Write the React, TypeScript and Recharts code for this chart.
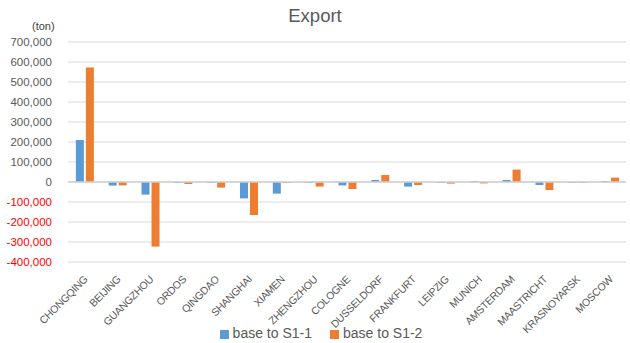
import React from 'react';
import { BarChart, Bar, XAxis, YAxis, CartesianGrid, Legend, ReferenceLine } from 'recharts';

const cities = ['CHONGQING', 'BEIJING', 'GUANGZHOU', 'ORDOS', 'QINGDAO', 'SHANGHAI', 'XIAMEN', 'ZHENGZHOU', 'COLOGNE', 'DUSSELDORF', 'FRANKFURT', 'LEIPZIG', 'MUNICH', 'AMSTERDAM', 'MAASTRICHT', 'KRASNOYARSK', 'MOSCOW'];
const baseS11 = [210000, -18000, -63000, -5000, -5000, -82000, -58000, -5000, -17000, 10000, -23000, -4000, 5000, 10000, -15000, -4000, 5000];
const baseS12 = [573000, -17000, -323000, -10000, -28000, -165000, -5000, -23000, -35000, 35000, -15000, -8000, -7000, 62000, -40000, -4000, 22000];
const yTicks = [-400000, -300000, -200000, -100000, 0, 100000, 200000, 300000, 400000, 500000, 600000, 700000];

const data = cities.map((c, i) => ({ city: c, s11: baseS11[i], s12: baseS12[i] }));

const FONT = '"Liberation Sans", Arial, sans-serif';

const fmt = (v: number) => {
  const s = Math.abs(v).toLocaleString('en-US');
  return v < 0 ? '-' + s : s;
};

const YTick = (props: any) => {
  const { x, y, payload } = props;
  const v = payload.value as number;
  return (
    <text x={x} y={y} dy={4} textAnchor="end" fontFamily={FONT} fontSize={11.5} fill={v < 0 ? '#ff0000' : '#595959'}>
      {fmt(v)}
    </text>
  );
};

const XTick = (props: any) => {
  const { x, y, payload } = props;
  return (
    <g transform={`translate(${x + 4},${y + 10})`}>
      <text x={0} y={0} textAnchor="end" transform="rotate(-45)" fontFamily={FONT} fontSize={10.5} letterSpacing={-0.3} fill="#595959">
        {payload.value}
      </text>
    </g>
  );
};

export default function App() {
  return (
    <div style={{ position: 'absolute', left: 0, top: 0, width: 630, height: 343, background: '#fff' }}>
      <div style={{ position: 'absolute', top: 5, left: 0, width: 630, textAlign: 'center', fontFamily: FONT, fontSize: 18.5, color: '#595959' }}>
        Export
      </div>
      <div style={{ position: 'absolute', top: 20, left: 32, fontFamily: FONT, fontSize: 11, color: '#404040' }}>
        (ton)
      </div>
      <BarChart width={630} height={343} data={data} margin={{ top: 42, right: 4, bottom: 21, left: 0 }} barGap={2} barCategoryGap="24%">
        <CartesianGrid vertical={false} stroke="#d9d9d9" />
        <XAxis dataKey="city" axisLine={false} tickLine={false} height={60} interval={0} tick={<XTick />} />
        <YAxis width={68} domain={[-400000, 700000]} ticks={yTicks} interval={0} axisLine={false} tickLine={false} tick={<YTick />} tickMargin={10} />
        <ReferenceLine y={0} stroke="#d0d0d0" strokeWidth={1.5} />
        <Legend
          verticalAlign="middle"
          align="center"
          iconType="square"
          iconSize={9}
          wrapperStyle={{ position: 'absolute', top: 325, left: 15, width: 630, fontFamily: FONT, fontSize: 14, color: '#595959' }}
          formatter={(value: string) => <span style={{ color: '#595959', marginRight: 8 }}>{value}</span>}
        />
        <Bar dataKey="s11" name="base to S1-1" fill="#5B9BD5" isAnimationActive={false} />
        <Bar dataKey="s12" name="base to S1-2" fill="#ED7D31" isAnimationActive={false} />
      </BarChart>
    </div>
  );
}
